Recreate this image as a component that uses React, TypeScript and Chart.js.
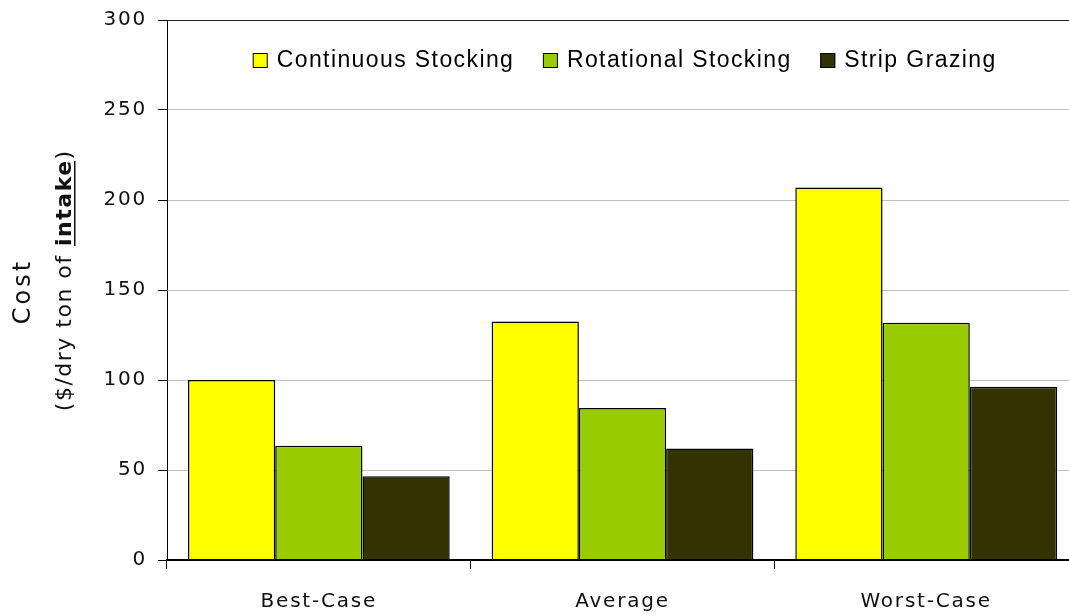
import React, { useEffect, useRef } from "react";
import { Chart, registerables } from "chart.js";

Chart.register(...registerables);

const categories = ["Best-Case", "Average", "Worst-Case"];
const seriesNames = ["Continuous Stocking", "Rotational Stocking", "Strip Grazing"];
const continuousStocking = [100, 132.5, 207];
const rotationalStocking = [63.5, 84.5, 131.8];
const stripGrazing = [46.5, 62, 96.3];
const yTickValues = [0, 50, 100, 150, 200, 250, 300];
const seriesColors = ["#FFFF00", "#99CC00", "#333300"];
const yTitleLine1 = "Cost";
const yTitleLine2 = ["($/dry ton of ", "intake", ")"];

const AXIS_FONT = "'DejaVu Sans', Verdana, sans-serif";
const LEGEND_FONT = "'Liberation Sans', Arial, sans-serif";

const spacingPlugin = {
  id: "spacing",
  beforeUpdate(chart: any) {
    chart.ctx.letterSpacing = "1.8px";
  },
  beforeLayout(chart: any) {
    chart.ctx.letterSpacing = "1.8px";
  },
  beforeDraw(chart: any) {
    chart.ctx.letterSpacing = "1.8px";
  },
};

const legendPlugin = {
  id: "innerLegend",
  afterDraw(chart: any) {
    const ctx = chart.ctx;
    const ds = chart.data.datasets;
    ctx.save();
    ctx.letterSpacing = "1.4px";
    ctx.font = `23px ${LEGEND_FONT}`;
    const box = 15;
    const gapText = 9;
    const gapItem = 30;
    const widths = ds.map((d: any) => ctx.measureText(d.label).width - 1.4);
    const total =
      widths.reduce((a: number, w: number) => a + box + gapText + w, 0) + gapItem * (ds.length - 1);
    const ca = chart.chartArea;
    let x = (ca.left + ca.right) / 2 + 1.5 - total / 2;
    const boxTop = 53;
    const baseline = 67;
    ds.forEach((d: any, i: number) => {
      ctx.fillStyle = d.backgroundColor;
      ctx.fillRect(x, boxTop, box, box);
      ctx.strokeStyle = "#000";
      ctx.lineWidth = 1;
      ctx.strokeRect(x + 0.5, boxTop + 0.5, box - 1, box - 1);
      ctx.fillStyle = "#000";
      ctx.textAlign = "left";
      ctx.textBaseline = "alphabetic";
      ctx.fillText(d.label, x + box + gapText, baseline);
      x += box + gapText + widths[i] + gapItem;
    });
    ctx.restore();
  },
};

const titlePlugin = {
  id: "yTitle",
  afterDraw(chart: any) {
    const ctx = chart.ctx;
    ctx.save();
    ctx.fillStyle = "#111";
    ctx.textBaseline = "alphabetic";
    ctx.textAlign = "left";
    ctx.letterSpacing = "3px";
    ctx.font = `24px ${AXIS_FONT}`;
    const w1 = ctx.measureText(yTitleLine1).width - 3;
    ctx.translate(30, 293);
    ctx.rotate(-Math.PI / 2);
    ctx.fillText(yTitleLine1, -w1 / 2, 0);
    ctx.restore();

    ctx.save();
    ctx.fillStyle = "#111";
    ctx.textBaseline = "alphabetic";
    ctx.textAlign = "left";
    ctx.letterSpacing = "1.5px";
    const fonts = [`22px ${AXIS_FONT}`, `bold 22px ${AXIS_FONT}`, `22px ${AXIS_FONT}`];
    const ws = yTitleLine2.map((t, i) => {
      ctx.font = fonts[i];
      return ctx.measureText(t).width;
    });
    const total = ws.reduce((a, b) => a + b, 0) - 1.5;
    ctx.translate(71, 281);
    ctx.rotate(-Math.PI / 2);
    let x = -total / 2;
    yTitleLine2.forEach((t, i) => {
      ctx.font = fonts[i];
      ctx.fillText(t, x, 0);
      if (i === 1) {
        ctx.fillRect(x, 3, ws[i] - 1.5, 1.5);
      }
      x += ws[i];
    });
    ctx.restore();
  },
};

export default function App() {
  const ref = useRef<HTMLCanvasElement | null>(null);

  useEffect(() => {
    if (!ref.current) return;
    const values = [continuousStocking, rotationalStocking, stripGrazing];
    const chart = new Chart(ref.current, {
      type: "bar",
      data: {
        labels: categories,
        datasets: seriesNames.map((name, i) => ({
          label: name,
          data: values[i],
          backgroundColor: seriesColors[i],
          borderColor: "#000",
          borderWidth: 1.5,
          categoryPercentage: 0.862,
          barPercentage: 1,
        })),
      },
      options: {
        animation: false,
        responsive: false,
        devicePixelRatio: 1,
        layout: { padding: { top: 20, left: 0, right: 0, bottom: 0 } },
        plugins: {
          legend: { display: false },
          tooltip: { enabled: false },
          title: { display: false },
        },
        scales: {
          x: {
            offset: true,
            grid: {
              display: true,
              drawOnChartArea: false,
              drawTicks: true,
              tickLength: 9,
              tickColor: "#000",
              offset: true,
            },
            border: { display: true, color: "#000", width: 2, z: 1 },
            ticks: {
              color: "#111",
              font: { family: AXIS_FONT, size: 20 },
              padding: 21,
              maxRotation: 0,
            },
            afterFit: (scale: any) => {
              scale.height = 56;
              scale.paddingLeft = 0;
              scale.paddingRight = 0;
            },
          },
          y: {
            min: 0,
            max: 300,
            afterBuildTicks: (scale: any) => {
              scale.ticks = yTickValues.map((v) => ({ value: v }));
            },
            grid: {
              color: (c: any) => (c.tick && c.tick.value === 300 ? "#222" : "#c0c0c0"),
              lineWidth: 1,
              tickLength: 9,
              tickColor: "#000",
            },
            border: { display: true, color: "#000", width: 1 },
            ticks: {
              color: "#111",
              font: { family: AXIS_FONT, size: 20 },
              padding: 11,
            },
            afterFit: (scale: any) => {
              scale.width = 167;
              scale.paddingTop = 0;
              scale.paddingBottom = 0;
            },
          },
        },
      },
      plugins: [spacingPlugin, legendPlugin, titlePlugin],
    });
    return () => chart.destroy();
  }, []);

  return (
    <div
      style={{
        position: "fixed",
        left: 0,
        top: 0,
        width: 1069,
        height: 616,
        overflow: "hidden",
        background: "#fff",
      }}
    >
      <canvas ref={ref} width={1078} height={616} style={{ display: "block", width: 1078, height: 616 }} />
    </div>
  );
}
